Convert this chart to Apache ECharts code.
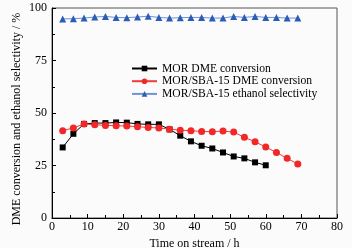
<!DOCTYPE html>
<html>
<head>
<meta charset="utf-8">
<script src="https://cdn.jsdelivr.net/npm/echarts@6/dist/echarts.min.js"></script>
<style>
  html, body { margin: 0; padding: 0; background: #fbfbfb; }
  #chart { width: 352px; height: 248px; }
</style>
</head>
<body>
<div id="chart"></div>
<script>
// 数据
const morTime = [3, 6, 9, 12, 15, 18, 21, 24, 27, 30, 33, 36, 39, 42, 45, 48, 51, 54, 57, 60];
const morConv = [33.6, 40.1, 44.8, 45.2, 45.2, 45.5, 45.4, 44.8, 44.6, 44.6, 42.2, 39.2, 36.5, 34.4, 33.1, 31.2, 29.3, 28.4, 26.5, 25.1];

const sbaTime = [3, 6, 9, 12, 15, 18, 21, 24, 27, 30, 33, 36, 39, 42, 45, 48, 51, 54, 57, 60, 63, 66, 69];
const sbaConv = [41.6, 42.9, 44.8, 44.4, 44.1, 43.9, 43.8, 43.5, 43.1, 42.9, 42.3, 41.8, 41.6, 41.2, 41.1, 41.4, 40.9, 38.4, 36.3, 33.8, 31.2, 28.4, 25.7];
const sbaSel = [94.8, 94.9, 95.2, 95.7, 96.0, 95.5, 95.4, 95.7, 96.1, 95.5, 95.2, 95.4, 95.5, 95.5, 95.2, 95.2, 96.0, 95.5, 96.0, 95.5, 95.5, 95.2, 95.2];

const xTicks = [0, 80, 10];
const yTicks = [0, 100, 25];
const yTitle = 'DME conversion and ethanol selectivity / %';

const pairs = (xs, ys) => xs.map((x, i) => [x, ys[i]]);

const chart = echarts.init(document.getElementById('chart'));

const font = 'Liberation Serif';

const option = {
    animation: false,
    backgroundColor: '#fbfbfb',
    textStyle: { fontFamily: font },
    grid: {
        left: 52, right: 15, top: 8, bottom: 30,
        outerBoundsMode: 'none', // 不自动收缩
        show: true, borderColor: '#555', borderWidth: 1
    },
    // Y 轴标题稍微偏下，用 graphic 放置
    graphic: [{
        type: 'text',
        x: 17, y: 119,
        rotation: Math.PI / 2,
        style: {
            text: yTitle,
            font: '12px "Liberation Serif"',
            fill: '#000',
            align: 'center',
            verticalAlign: 'middle'
        }
    }],
    legend: {
        orient: 'vertical',
        left: 126, top: 57.5,
        itemWidth: 25, itemHeight: 7, itemGap: 0.7,
        textStyle: { fontFamily: font, fontSize: 11.6, lineHeight: 12, color: '#000' },
        data: ['MOR DME conversion', 'MOR/SBA-15 DME conversion', 'MOR/SBA-15 ethanol selectivity']
    },
    xAxis: {
        type: 'value',
        min: xTicks[0], max: xTicks[1], interval: xTicks[2],
        name: 'Time on stream / h',
        nameLocation: 'middle', nameGap: 17,
        nameTextStyle: { fontFamily: font, fontSize: 12, color: '#000' },
        axisLine: { lineStyle: { color: '#000' } },
        axisTick: { inside: true, length: 4, lineStyle: { color: '#000' } },
        minorTick: { show: true, splitNumber: 2, length: 3, lineStyle: { color: '#000' } },
        axisLabel: { fontFamily: font, fontSize: 12, color: '#000', margin: 3 },
        splitLine: { show: false }
    },
    yAxis: {
        type: 'value',
        min: yTicks[0], max: yTicks[1], interval: yTicks[2],
        axisLine: { lineStyle: { color: '#000' } },
        axisTick: { inside: true, length: 4, lineStyle: { color: '#000' } },
        minorTick: { show: true, splitNumber: 2, length: 3, lineStyle: { color: '#000' } },
        axisLabel: { fontFamily: font, fontSize: 12, color: '#000', margin: 5 },
        splitLine: { show: false }
    },
    series: [
        {
            name: 'MOR DME conversion',
            type: 'line',
            data: pairs(morTime, morConv),
            symbol: 'rect', symbolSize: 6,
            itemStyle: { color: '#000' },
            lineStyle: { color: '#000', width: 1 }
        },
        {
            name: 'MOR/SBA-15 DME conversion',
            type: 'line',
            data: pairs(sbaTime, sbaConv),
            symbol: 'circle', symbolSize: 7,
            itemStyle: { color: '#f02828' },
            lineStyle: { color: '#f23a3a', width: 1 }
        },
        {
            name: 'MOR/SBA-15 ethanol selectivity',
            type: 'line',
            data: pairs(sbaTime, sbaSel),
            symbol: 'triangle', symbolSize: 7,
            itemStyle: { color: '#2a5cb8' },
            lineStyle: { color: '#6f92d4', width: 1 }
        }
    ]
};

chart.setOption(option);
</script>
</body>
</html>
